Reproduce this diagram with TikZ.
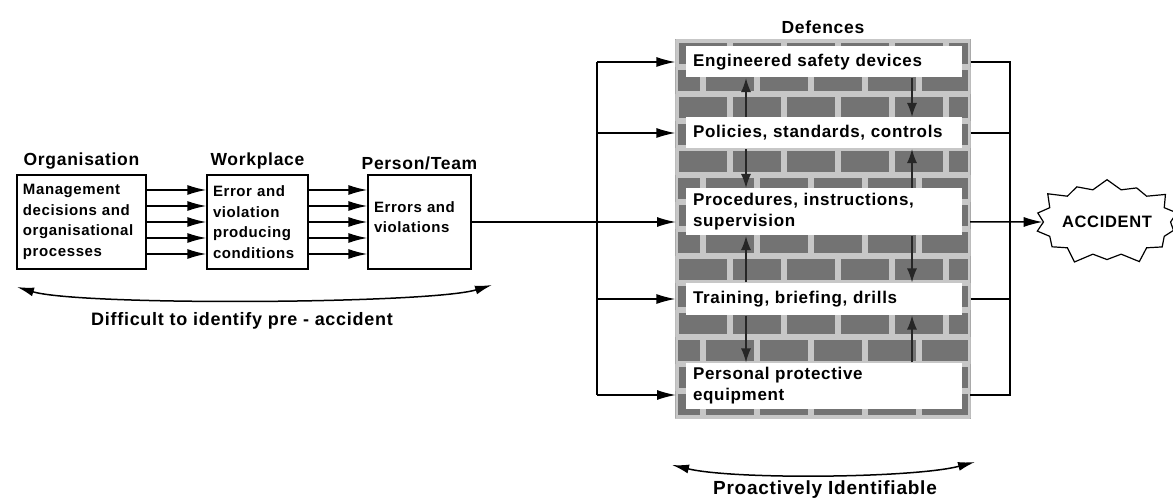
\documentclass[tikz,border=0pt]{standalone}
\usepackage{fontspec}
\setmainfont{Liberation Sans}[LetterSpace=4]
\usetikzlibrary{positioning,shapes.symbols,arrows.meta}
\begin{document}
\begin{tikzpicture}[x=1pt, y=-1pt, line width=1.1pt,
  box/.style={draw, line width=1.3pt, align=left, inner xsep=6pt, minimum height=94pt, font=\bfseries\fontsize{15}{20.5}\selectfont},
  title/.style={font=\bfseries\fontsize{17.5}{20}\selectfont},
  note/.style={font=\bfseries\fontsize{18}{21}\selectfont},
  dbox/.style={fill=white, align=left, minimum width=276pt, text width=262pt, inner xsep=7pt, font=\bfseries\fontsize{17}{21}\selectfont},
  arr/.style={-{Latex[length=19pt,width=10pt]}, line width=1.5pt},
  carr/.style={{Latex[length=17pt,width=9pt]}-{Latex[length=17pt,width=9pt]}, line width=1.5pt},
  varr/.style={-{Latex[length=14pt,width=10pt]}, line width=1.4pt, black!85},
  mortar/.style={line width=6pt, black!22}]
\useasboundingbox (0,0) rectangle (1173,502);
\node[box, text width=117pt] (org) at (81.5,222) {Management\\decisions and\\organisational\\processes};
\node[box, text width=89pt] (work) at (257.5,222) {Error and\\violation\\producing\\conditions};
\node[box, text width=91pt, text depth=30pt] (person) at (419.5,222) {Errors and\\violations};
\node[title, above=1pt of org] (orgt) {Organisation};
\node[title, above=1pt of work] (workt) {Workplace};
\node[title, above=1pt of person] (persont) {Person/Team};
\foreach \d in {32,16,0,-16,-32} {
  \draw[arr] ([yshift=\d pt]org.east) -- ([yshift=\d pt]work.west);
  \draw[arr] ([yshift=\d pt]work.east) -- ([yshift=\d pt]person.west);
}
\node[minimum width=294pt, minimum height=378pt, inner sep=0pt] (wall) at (823,229) {};
\fill[black!55] (wall.north west) rectangle (wall.south east);
\begin{scope}
  \clip (wall.north west) rectangle (wall.south east);
  \foreach \i in {0,...,14} {
    \draw[mortar] (676,40+\i*27) -- (970,40+\i*27);
    \foreach \j in {0,...,6}
      \draw[mortar] ({676+\j*54+mod(\i,2)*27},{40+\i*27}) -- ++(0,27);
  }
  \draw[mortar] (wall.north west) rectangle (wall.south east);
\end{scope}
\node[title, above=2pt of wall] (deft) {Defences};
\node[dbox, minimum height=31pt] (eng) at (824,62) {Engineered safety devices};
\node[dbox, minimum height=31pt] (pol) at (824,133) {Policies, standards, controls};
\node[dbox, minimum height=47pt] (proc) at (824,212) {Procedures, instructions,\\supervision};
\node[dbox, minimum height=32pt] (train) at (824,299) {Training, briefing, drills};
\node[dbox, minimum height=46pt] (ppe) at (824,386) {Personal protective\\equipment};
\coordinate (lx) at (746,0);
\coordinate (rx) at (912,0);
\draw[varr] (pol.north -| lx) -- (eng.south -| lx);
\draw[varr] (eng.south -| rx) -- (pol.north -| rx);
\draw[varr] (pol.south -| lx) -- (proc.north -| lx);
\draw[varr] (proc.north -| rx) -- (pol.south -| rx);
\draw[varr] (train.north -| lx) -- (proc.south -| lx);
\draw[varr] (proc.south -| rx) -- (train.north -| rx);
\draw[varr] (train.south -| lx) -- (ppe.north -| lx);
\draw[varr] (ppe.north -| rx) -- (train.south -| rx);
\coordinate (lb) at (597,0);
\coordinate (rb) at (1010,0);
\coordinate (procin) at (676,222);
\coordinate (ppein) at (676,395);
\coordinate (procout) at (970,222);
\coordinate (ppeout) at (970,395);
\node[starburst, draw, line width=1.2pt, starburst points=14, starburst point height=13pt, minimum width=126pt, minimum height=92pt, inner sep=0pt, font=\bfseries\fontsize{16.5}{20}\selectfont] (acc) at (1107,222) {ACCIDENT};
\draw (lb |- eng.west) -- (lb |- ppein);
\draw[arr] (lb |- eng.west) -- (wall.west |- eng.west);
\draw[arr] (lb |- pol.west) -- (wall.west |- pol.west);
\draw[arr] (person.east) -- (procin);
\draw[arr] (lb |- train.west) -- (wall.west |- train.west);
\draw[arr] (lb |- ppein) -- (ppein);
\draw (wall.east |- eng.east) -- (rb |- eng.east) -- (rb |- ppeout) -- (ppeout);
\draw (wall.east |- pol.east) -- (rb |- pol.east);
\draw (wall.east |- train.east) -- (rb |- train.east);
\draw[arr] (procout) -- (acc);
\coordinate (dl) at (17,287);
\coordinate (dr) at (492,285);
\draw[carr] (dl) .. controls (80,306) and (430,304) .. (dr);
\node[note] (diff) at (242,321) {Difficult to identify pre - accident};
\coordinate (pl) at (672,465);
\coordinate (pr) at (975,462);
\draw[carr] (pl) .. controls (735,480) and (915,478) .. (pr);
\node[note, font=\bfseries\fontsize{19}{22}\selectfont] (proact) at (825,490) {Proactively Identifiable};
\end{tikzpicture}
\end{document}
